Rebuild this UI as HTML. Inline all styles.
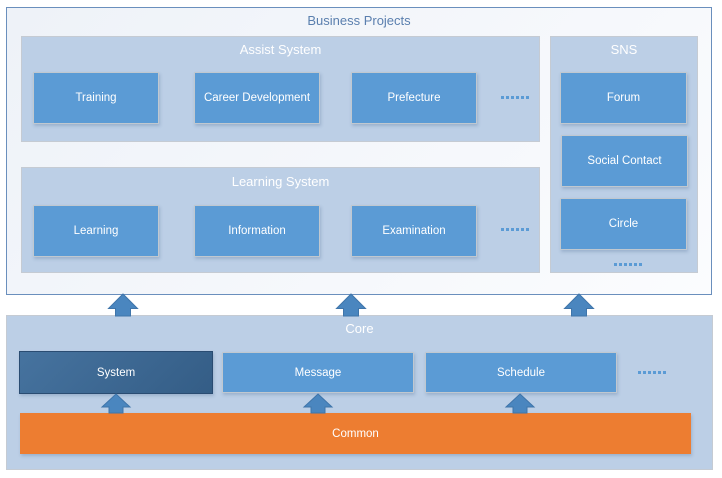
<!DOCTYPE html>
<html><head><meta charset="utf-8"><style>
body{margin:0;width:722px;height:478px;background:#fff;position:relative;overflow:hidden;font-family:"Liberation Sans",sans-serif;}
div{position:absolute;box-sizing:border-box;}
.grp{background:#bccfe6;border:1px solid #c5cbd3;}
.t{color:#fff;font-size:13px;text-align:center;}
.b{background:#5b9bd5;border:1px solid #c0c8d0;color:#fff;font-size:11.5px;display:flex;align-items:center;justify-content:center;box-shadow:1px 2px 3px rgba(80,110,150,0.3);}
.dots{height:3px;width:28px;background:repeating-linear-gradient(90deg,#5b9bd5 0 3px,transparent 3px 5px);}
</style></head><body>
<div style="left:6px;top:7px;width:706px;height:288px;border:1px solid #6a8fbd;background:linear-gradient(135deg,#eef2f8,#fbfcfe);"></div>
<div style="left:6px;top:13px;width:706px;text-align:center;color:#5a7fae;font-size:13px;">Business Projects</div>

<div class="grp" style="left:21px;top:36px;width:519px;height:106px;"></div>
<div class="t" style="left:21px;top:42px;width:519px;">Assist System</div>
<div class="b" style="left:33px;top:72px;width:126px;height:52px;">Training</div>
<div class="b" style="left:194px;top:72px;width:126px;height:52px;">Career Development</div>
<div class="b" style="left:351px;top:72px;width:126px;height:52px;">Prefecture</div>
<div class="dots" style="left:501px;top:96px;"></div>

<div class="grp" style="left:21px;top:167px;width:519px;height:106px;"></div>
<div class="t" style="left:21px;top:174px;width:519px;">Learning System</div>
<div class="b" style="left:33px;top:205px;width:126px;height:52px;">Learning</div>
<div class="b" style="left:194px;top:205px;width:126px;height:52px;">Information</div>
<div class="b" style="left:351px;top:205px;width:126px;height:52px;">Examination</div>
<div class="dots" style="left:501px;top:228px;"></div>

<div class="grp" style="left:550px;top:36px;width:148px;height:237px;"></div>
<div class="t" style="left:550px;top:42px;width:148px;">SNS</div>
<div class="b" style="left:560px;top:72px;width:127px;height:52px;">Forum</div>
<div class="b" style="left:561px;top:135px;width:127px;height:52px;">Social Contact</div>
<div class="b" style="left:560px;top:198px;width:127px;height:52px;">Circle</div>
<div class="dots" style="left:614px;top:263px;"></div>

<div class="grp" style="left:6px;top:315px;width:707px;height:155px;"></div>
<div class="t" style="left:6px;top:321px;width:707px;">Core</div>
<div class="b" style="left:19px;top:351px;width:194px;height:43px;background:linear-gradient(135deg,#46739f,#345d86);border:1px solid #2a4c72;">System</div>
<div class="b" style="left:222px;top:352px;width:192px;height:41px;">Message</div>
<div class="b" style="left:425px;top:352px;width:192px;height:41px;">Schedule</div>
<div class="dots" style="left:638px;top:371px;"></div>
<div style="left:20px;top:413px;width:671px;height:41px;background:#ed7d31;color:#fff;font-size:11.5px;display:flex;align-items:center;justify-content:center;box-shadow:1px 2px 3px rgba(80,110,150,0.3);">Common</div>

<svg width="722" height="478" style="position:absolute;left:0;top:0;">
<g fill="#4a86bf" stroke="#3f75aa" stroke-width="1">
<polygon points="123,294 137.5,308.5 130.5,308.5 130.5,316 115.5,316 115.5,308.5 108.5,308.5"/>
<polygon points="351,294 365.5,308.5 358.5,308.5 358.5,316 343.5,316 343.5,308.5 336.5,308.5"/>
<polygon points="579,294 593.5,308.5 586.5,308.5 586.5,316 571.5,316 571.5,308.5 564.5,308.5"/>
<polygon points="116,394 130,407 123,407 123,413 109,413 109,407 102,407"/>
<polygon points="318,394 332,407 325,407 325,413 311,413 311,407 304,407"/>
<polygon points="520,394 534,407 527,407 527,413 513,413 513,407 506,407"/>
</g></svg>
</body></html>
